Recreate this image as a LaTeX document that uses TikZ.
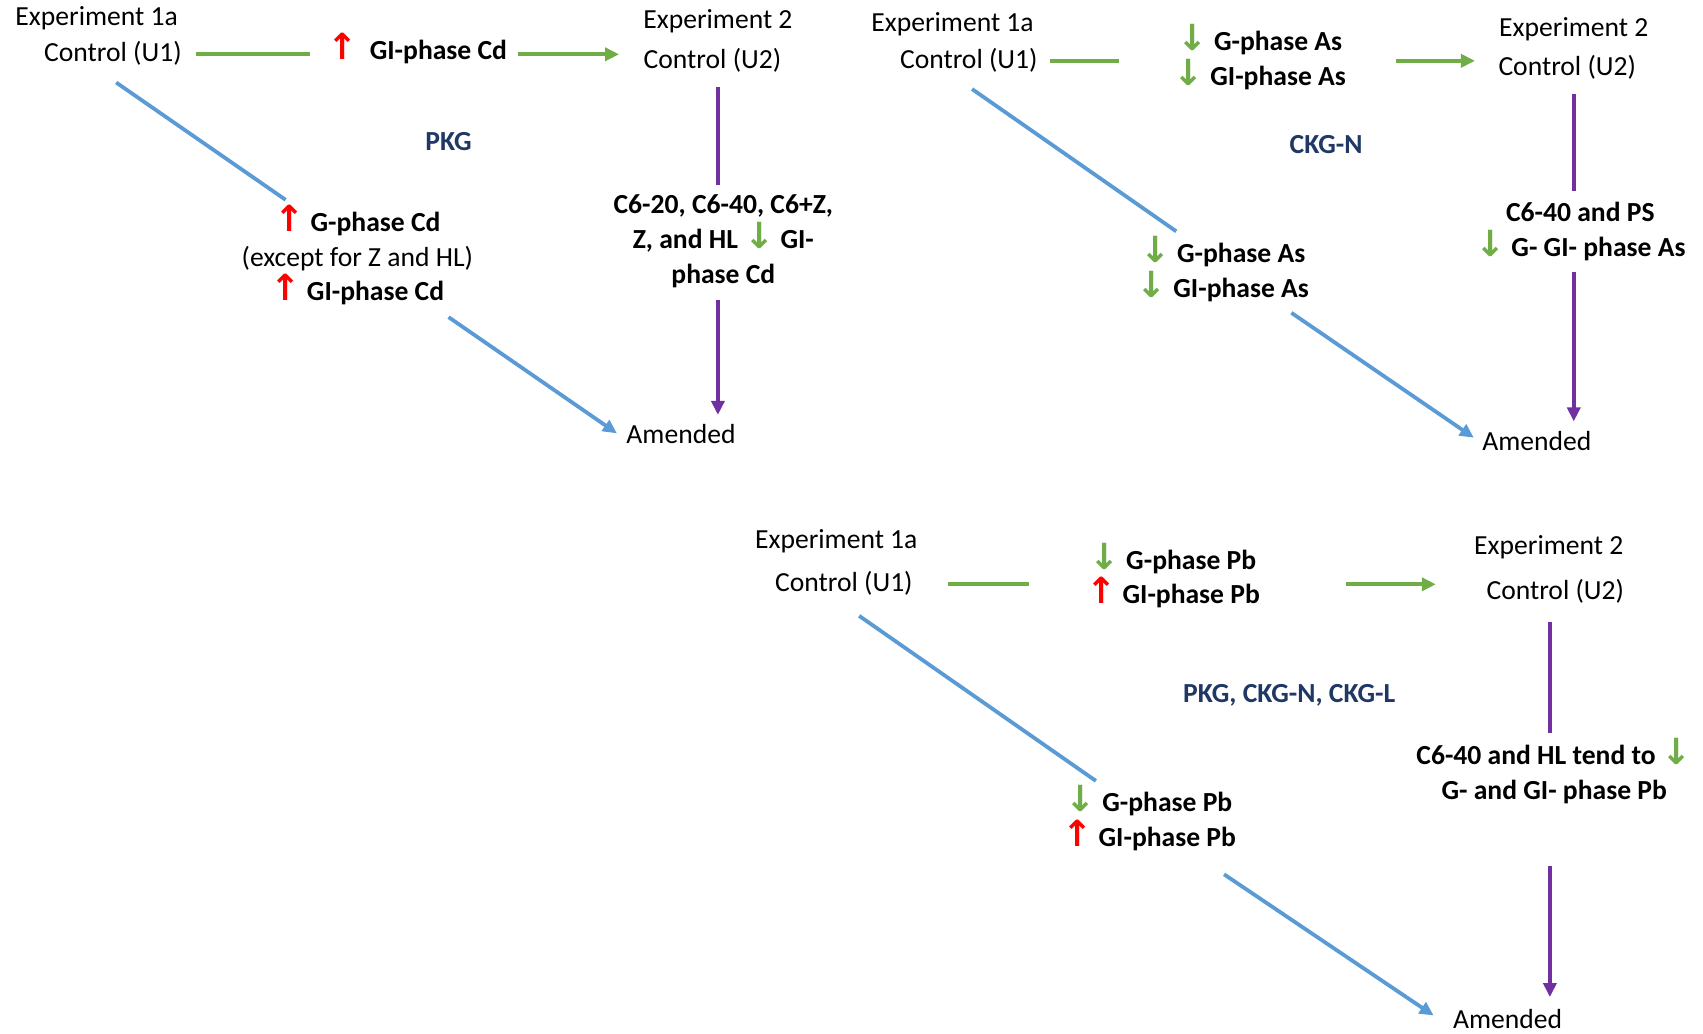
\documentclass[tikz,border=0pt]{standalone}
\usepackage{fontspec}
\setmainfont{Carlito}
\newfontfamily\symfont{DejaVu Sans}
\usetikzlibrary{arrows.meta}
\definecolor{cgreen}{HTML}{70AD47}
\definecolor{cblue}{HTML}{5B9BD5}
\definecolor{cpurple}{HTML}{7030A0}
\definecolor{cnavy}{HTML}{203864}
\newcommand\myup{\smash{\symfont\fontsize{18}{17.4}\selectfont\textcolor{red}{↑}}}
\newcommand\mydn{\smash{\symfont\fontsize{18}{17.4}\selectfont\textcolor{cgreen}{↓}}}
\tikzset{
  txt/.style={inner sep=0pt, font=\fontsize{13.8}{17.4}\selectfont, align=center},
  btxt/.style={txt, font=\fontsize{13.8}{17.4}\selectfont\bfseries},
  ktxt/.style={btxt, text=cnavy},
  gline/.style={cgreen, line width=2.1pt},
  garrow/.style={gline, -{Triangle[length=7pt,width=6.5pt]}},
  bline/.style={cblue, line width=1.9pt},
  barrow/.style={bline, -{Triangle[length=7pt,width=6.5pt]}},
  pline/.style={cpurple, line width=1.9pt},
  parrow/.style={pline, -{Triangle[length=7pt,width=6.5pt]}},
}
\begin{document}
\begin{tikzpicture}[x=0.543pt, y=-0.543pt]
\useasboundingbox (0,0) rectangle (1568,952);

% ---------- Panel 1 (Cd) ----------
\node[txt] (e1a) at (89,17) {Experiment 1a};
\node[txt] (u1a) at (104,49) {Control (U1)};
\node[btxt] (ga) at (384,48) {\myup\ \ GI-phase Cd};
\node[txt] (e2a) at (661,20) {Experiment 2};
\node[txt] (u2a) at (656,56) {Control (U2)};
\node[btxt] (pa) at (666,222) {C6-20, C6-40, C6+Z,\\Z, and HL \mydn\ GI-\\phase Cd};
\node[txt] (ama) at (627,400) {Amended};
\node[btxt] (ba) at (329,238) {\myup\ G-phase Cd\\\mdseries(except for Z and HL)\\\myup\ GI-phase Cd};
\node[ktxt] (ka) at (413,130) {PKG};

\coordinate (ga1) at (180,50); \coordinate (ga2) at (285,50);
\coordinate (ga3) at (477,50); \coordinate (ga4) at (570,50);
\coordinate (pa1) at (661,80); \coordinate (pa2) at (661,170);
\coordinate (pa3) at (661,276); \coordinate (pa4) at (661,382);
\coordinate (ba1) at (107,76); \coordinate (ba2) at (263,184);
\coordinate (ba3) at (413,292); \coordinate (ba4) at (568,399);
\draw[gline] (ga1) -- (ga2);
\draw[garrow] (ga3) -- (ga4);
\draw[pline] (pa1) -- (pa2);
\draw[parrow] (pa3) -- (pa4);
\draw[bline] (ba1) -- (ba2);
\draw[barrow] (ba3) -- (ba4);

% ---------- Panel 2 (As) ----------
\node[txt] (e1b) at (877,22) {Experiment 1a};
\node[txt] (u1b) at (892,56) {Control (U1)};
\node[btxt] (gb) at (1160,56) {\mydn\ G-phase As\\\mydn\ GI-phase As};
\node[txt] (e2b) at (1449,27) {Experiment 2};
\node[txt] (u2b) at (1443,62) {Control (U2)};
\node[btxt] (pb) at (1455,213) {C6-40 and PS\\\mydn\ G- GI- phase As};
\node[txt] (amb) at (1415,406) {Amended};
\node[btxt] (bb) at (1126,251) {\mydn\ G-phase As\\\mydn\ GI-phase As};
\node[ktxt] (kb) at (1221,133) {CKG-N};

\coordinate (gb1) at (967,56); \coordinate (gb2) at (1030,56);
\coordinate (gb3) at (1285,56); \coordinate (gb4) at (1358,56);
\coordinate (pb1) at (1449,87); \coordinate (pb2) at (1449,176);
\coordinate (pb3) at (1449,250); \coordinate (pb4) at (1449,388);
\coordinate (bb1) at (895,82); \coordinate (bb2) at (1083,213);
\coordinate (bb3) at (1189,288); \coordinate (bb4) at (1357,403);
\draw[gline] (gb1) -- (gb2);
\draw[garrow] (gb3) -- (gb4);
\draw[pline] (pb1) -- (pb2);
\draw[parrow] (pb3) -- (pb4);
\draw[bline] (bb1) -- (bb2);
\draw[barrow] (bb3) -- (bb4);

% ---------- Panel 3 (Pb) ----------
\node[txt] (e1c) at (770,498) {Experiment 1a};
\node[txt] (u1c) at (777,537) {Control (U1)};
\node[btxt] (gc) at (1080,533) {\mydn\ G-phase Pb\\\myup\ GI-phase Pb};
\node[txt] (e2c) at (1426,504) {Experiment 2};
\node[txt] (u2c) at (1432,544) {Control (U2)};
\node[btxt] (pc) at (1431,713) {C6-40 and HL tend to \mydn\\G- and GI- phase Pb};
\node[txt] (amc) at (1388,938) {Amended};
\node[btxt] (bc) at (1058,756) {\mydn\ G-phase Pb\\\myup\ GI-phase Pb};
\node[ktxt] (kc) at (1187,640) {PKG, CKG-N, CKG-L};

\coordinate (gc1) at (873,538); \coordinate (gc2) at (947,538);
\coordinate (gc3) at (1239,538); \coordinate (gc4) at (1322,538);
\coordinate (pc1) at (1427,573); \coordinate (pc2) at (1427,675);
\coordinate (pc3) at (1427,797); \coordinate (pc4) at (1427,918);
\coordinate (bc1) at (791,567); \coordinate (bc2) at (1009,719);
\coordinate (bc3) at (1127,805); \coordinate (bc4) at (1320,935);
\draw[gline] (gc1) -- (gc2);
\draw[garrow] (gc3) -- (gc4);
\draw[pline] (pc1) -- (pc2);
\draw[parrow] (pc3) -- (pc4);
\draw[bline] (bc1) -- (bc2);
\draw[barrow] (bc3) -- (bc4);
\end{tikzpicture}
\end{document}
